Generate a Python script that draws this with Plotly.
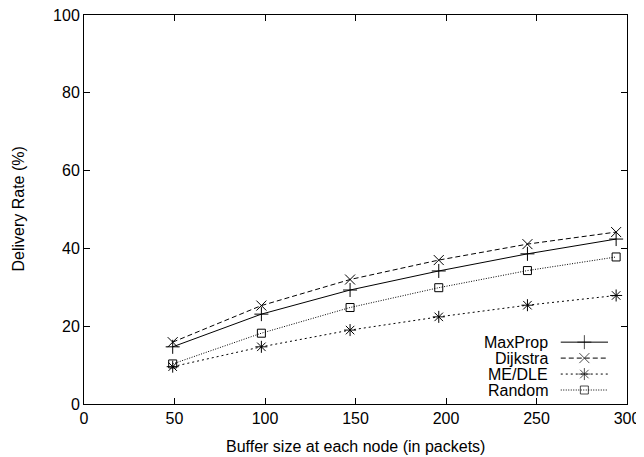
import plotly.graph_objects as go

buffer_sizes = [49, 98, 147, 196, 245, 294]
maxprop = [14.7, 23.1, 29.3, 34.2, 38.6, 42.4]
dijkstra = [15.9, 25.3, 32.0, 37.0, 41.1, 44.2]
me_dle = [9.6, 14.7, 19.0, 22.4, 25.4, 27.9]
random_ = [10.3, 18.2, 24.8, 29.9, 34.3, 37.8]

series_names = ["MaxProp", "Dijkstra", "ME/DLE", "Random"]
series_values = [maxprop, dijkstra, me_dle, random_]
x_ticks = [0, 50, 100, 150, 200, 250, 300]
y_ticks = [0, 20, 40, 60, 80, 100]
x_title = "Buffer size at each node (in packets)"
y_title = "Delivery Rate (%)"

styles = [
    dict(dash="solid", symbol="cross-thin-open", size=10),
    dict(dash="5px,3px", symbol="x-thin-open", size=10),
    dict(dash="2px,3px", symbol="asterisk-open", size=10),
    dict(dash="1px,1.5px", symbol="square-open", size=8),
]

FONT = "Liberation Sans, Arial, Helvetica, sans-serif"
fig = go.Figure()

for name, vals, st in zip(series_names, series_values, styles):
    fig.add_trace(go.Scatter(
        x=buffer_sizes, y=vals, mode="lines+markers", name=name,
        line=dict(color="black", width=1, dash=st["dash"]),
        marker=dict(symbol=st["symbol"], size=st["size"], color="black",
                    line=dict(color="black", width=1)),
        showlegend=False,
    ))

# custom gnuplot-style legend (text right-aligned, sample on the right)
leg_rows = [0.159, 0.118, 0.077, 0.036]
for name, st, yy in zip(series_names, styles, leg_rows):
    fig.add_trace(go.Scatter(
        x=[0.878, 0.9215, 0.965], y=[yy, yy, yy], xaxis="x2", yaxis="y2",
        mode="lines+markers", showlegend=False, hoverinfo="skip",
        line=dict(color="black", width=1, dash=st["dash"]),
        marker=dict(symbol=st["symbol"], size=[0, st["size"], 0], color="black",
                    line=dict(color="black", width=1)),
    ))
    fig.add_annotation(x=0.858, y=yy, xref="x2", yref="y2", text=name,
                       showarrow=False, xanchor="right", yanchor="middle",
                       font=dict(family=FONT, size=16, color="black"))

# axis titles as annotations (fixed positions)
fig.add_annotation(x=0.5, y=-0.108, xref="paper", yref="paper", text=x_title,
                   showarrow=False, xanchor="center", yanchor="middle",
                   font=dict(family=FONT, size=16, color="black"))
fig.add_annotation(x=-0.1215, y=0.5, xref="paper", yref="paper", text=y_title,
                   showarrow=False, xanchor="center", yanchor="middle", textangle=-90,
                   font=dict(family=FONT, size=16, color="black"))

axis_common = dict(
    showline=True, linecolor="black", linewidth=1, mirror="ticks",
    ticks="inside", ticklen=6, tickwidth=1, tickcolor="black",
    showgrid=False, zeroline=False, automargin=False,
    ticklabeloverflow="allow",
    tickfont=dict(family=FONT, size=16, color="black"),
)

# page body has an 8px default margin; figure is sized to fit the window
fig.update_layout(
    width=636, height=449,
    margin=dict(l=76, r=17, t=7, b=53),
    paper_bgcolor="white", plot_bgcolor="white",
    font=dict(family=FONT, size=16, color="black"),
    xaxis=dict(range=[0, 300], tickvals=x_ticks, **axis_common),
    yaxis=dict(range=[0, 100], tickvals=y_ticks, **axis_common),
    xaxis2=dict(range=[0, 1], overlaying="x", visible=False, fixedrange=True),
    yaxis2=dict(range=[0, 1], overlaying="y", visible=False, fixedrange=True),
)

fig.write_html("out.html")
